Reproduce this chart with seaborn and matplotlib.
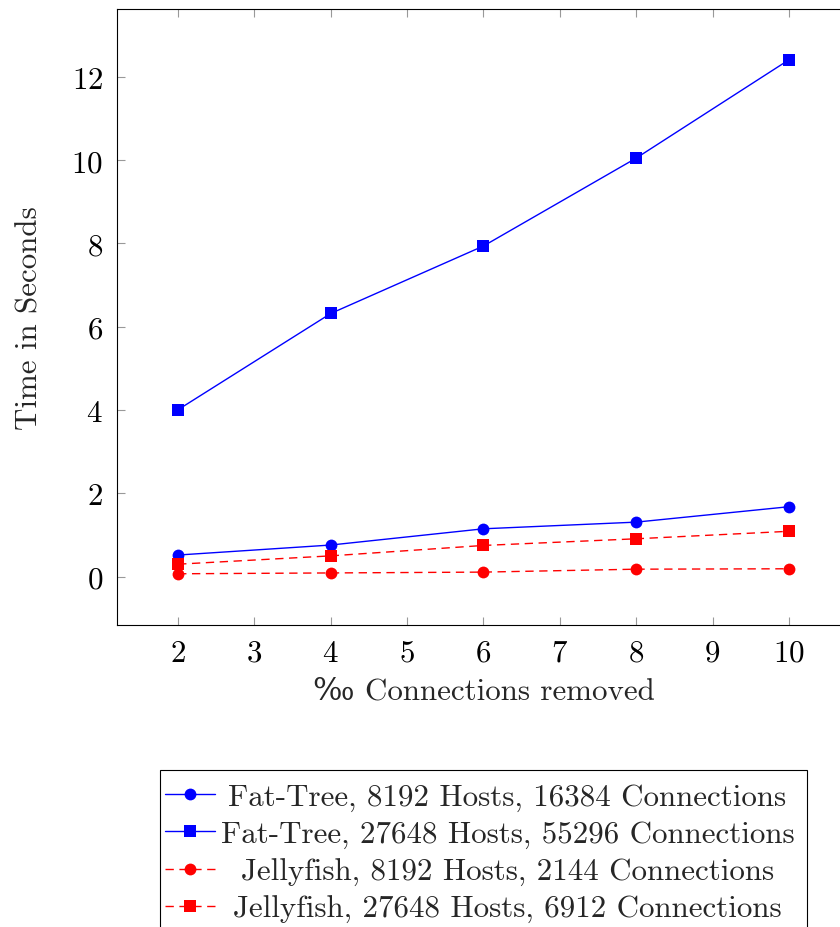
import matplotlib
matplotlib.use("Agg")
import matplotlib.pyplot as plt
from matplotlib.patches import Rectangle
import seaborn as sns
import pandas as pd

x_vals = [2, 4, 6, 8, 10]
ft_small = [0.52, 0.76, 1.15, 1.31, 1.68]
ft_large = [4.01, 6.32, 7.94, 10.05, 12.41]
jf_small = [0.07, 0.09, 0.11, 0.18, 0.19]
jf_large = [0.30, 0.50, 0.75, 0.91, 1.09]

labels = [
    "Fat-Tree, 8192 Hosts, 16384 Connections",
    "Fat-Tree, 27648 Hosts, 55296 Connections",
    "Jellyfish, 8192 Hosts, 2144 Connections",
    "Jellyfish, 27648 Hosts, 6912 Connections",
]
series = [ft_small, ft_large, jf_small, jf_large]

rows = []
for lab, ys in zip(labels, series):
    for xv, yv in zip(x_vals, ys):
        rows.append({"x": xv, "y": yv, "series": lab})
df = pd.DataFrame(rows)

sns.set_style("ticks")
plt.rcParams["font.family"] = ["cmr10", "DejaVu Serif"]
plt.rcParams["mathtext.fontset"] = "cm"
plt.rcParams["axes.formatter.use_mathtext"] = True
plt.rcParams["axes.unicode_minus"] = False

FS = 22.3
W, H = 840, 928

fig = plt.figure(figsize=(W / 100, H / 100), dpi=100)
ax = fig.add_axes([117 / W, (H - 626) / H, (850 - 117) / W, (626 - 10) / H])

palette = {labels[0]: "#0000ff", labels[1]: "#0000ff", labels[2]: "#ff0000", labels[3]: "#ff0000"}
markers = {labels[0]: "o", labels[1]: "s", labels[2]: "o", labels[3]: "s"}
dashes = {labels[0]: "", labels[1]: "", labels[2]: (6, 4), labels[3]: (6, 4)}

sns.lineplot(data=df, x="x", y="y", hue="series", style="series",
             palette=palette, markers=markers, dashes=dashes,
             hue_order=labels, style_order=labels,
             linewidth=1.0, markersize=8.5, markeredgewidth=0, ax=ax, legend=True)

ax.set_xlim(1.2, 10.8)
ax.set_ylim(-1.16, 13.63)
ax.set_xticks([2, 3, 4, 5, 6, 7, 8, 9, 10])
ax.set_yticks([0, 2, 4, 6, 8, 10, 12])
ax.tick_params(direction="in", length=6, width=0.8, color="#999999",
               top=True, right=True, labelsize=FS, pad=10, labelcolor="black")
for s in ax.spines.values():
    s.set_color("black")
    s.set_linewidth(0.8)
ax.set_xlabel("‰ Connections removed", fontsize=FS, labelpad=7)
ax.set_ylabel("Time in Seconds", fontsize=FS, labelpad=20)

handles, labs = ax.get_legend_handles_labels()
ax.get_legend().remove()
leg = fig.legend(handles, labs, loc="upper left", bbox_to_anchor=(165 / W, (H - 784) / H),
                 fontsize=FS, frameon=False,
                 handlelength=1.6, handletextpad=0.2, labelspacing=0.3,
                 borderpad=0, borderaxespad=0)

# legend frame (runs off the bottom edge of the figure, as in the original)
fig.patches.append(Rectangle((160 / W, -0.05), (807 - 160) / W, (H - 771) / H + 0.05,
                             transform=fig.transFigure, fill=False,
                             edgecolor="black", linewidth=0.8, zorder=0))

# centre the legend entries within the text column, like the original
fig.canvas.draw()
texts = leg.get_texts()
widths = [t.get_window_extent().width for t in texts]
maxw = max(widths)
for t, w in zip(texts, widths):
    t.set_x((maxw - w) / 2)

fig.savefig("out.png", dpi=100)
